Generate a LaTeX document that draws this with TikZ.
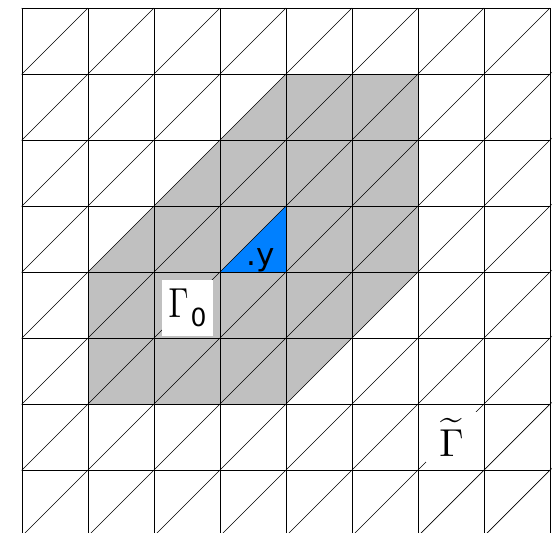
\documentclass[tikz,border=0pt]{standalone}
\usepackage{fontspec}
\newfontfamily\djv{DejaVu Sans}
\definecolor{regiongray}{HTML}{C0C0C0}
\definecolor{cellblue}{HTML}{0080FF}
\begin{document}
\begin{tikzpicture}[x=1pt,y=-1pt,
  gridline/.style={line width=0.9pt,black},
  diagline/.style={line width=0.7pt,black},
  labelbox/.style={fill=white,inner sep=0pt,minimum width=51pt}]
\useasboundingbox (0,0) rectangle (558,533);
\fill[white] (0,0) rectangle (558,533);
% shaded region Gamma_0
\fill[regiongray] (286,74) -- (418,74) -- (418,272) -- (286,404) -- (88,404) -- (88,272) -- cycle;
% triangle containing y
\fill[cellblue] (220,272) -- (286,206) -- (286,272) -- cycle;
\begin{scope}
  \clip (21.5,7.5) rectangle (551.5,533);
  \foreach \i in {0,...,8} \draw[gridline] (22+66*\i,8) -- (22+66*\i,540);
  \foreach \j in {0,...,7} \draw[gridline] (22,8+66*\j) -- (551,8+66*\j);
  \foreach \k in {-1,...,15} {
    \pgfmathsetmacro{\s}{96+66*\k}
    \draw[diagline] (\s-8,8) -- (\s-540,540);
  }
\end{scope}
% labels
\node[labelbox,minimum height=56pt] (gzero) at (187.5,308)
  {\raisebox{3pt}{\scalebox{3.2}[4.2]{$\Gamma$}\hspace{2pt}\raisebox{-9pt}{\djv\fontsize{25}{25}\selectfont 0}}};
\node[labelbox,minimum height=50pt] (gtilde) at (451.5,437)
  {\scalebox{3.9}{$\widetilde{\Gamma}$}};
\node[inner sep=0pt,anchor=base west] (ylabel) at (246,265)
  {\djv\fontsize{31}{31}\selectfont .y};
\end{tikzpicture}
\end{document}
